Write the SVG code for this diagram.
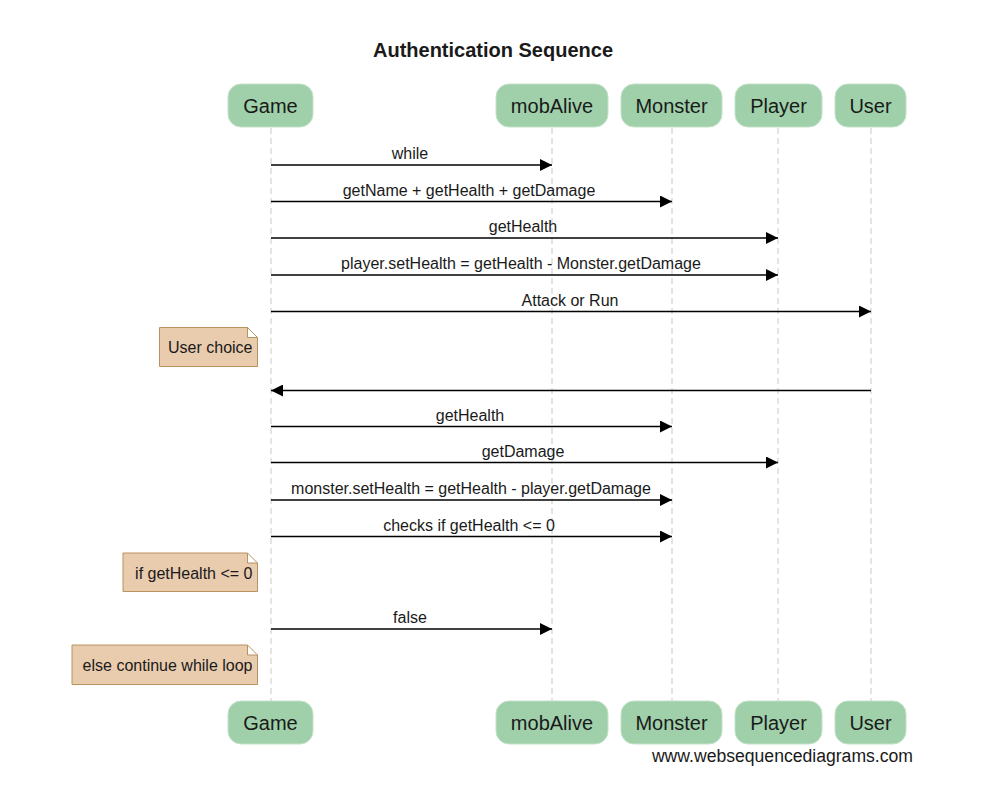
<svg xmlns="http://www.w3.org/2000/svg" width="1002" height="803" viewBox="0 0 1002 803">
<style>
text{font-family:"Liberation Sans",Arial,sans-serif;fill:#1a1a1a}
.title{font-size:20px;font-weight:bold;text-anchor:middle}
.part rect{fill:#9fd0aa;stroke:#c2e2c8;stroke-width:1}
.part text{font-size:20px;text-anchor:middle}
.life{stroke:#c8c8c8;stroke-width:1;stroke-dasharray:6,4}
.msg line{stroke:#000;stroke-width:1.3}
.msg text{font-size:16px;text-anchor:middle}
.note path{fill:#e9cbae;stroke:#b8925f;stroke-width:1}
.note text{font-size:16px;text-anchor:end}
.wm{font-size:17.6px;text-anchor:end}
</style>
<defs>
<marker id="ah" viewBox="0 0 12 12" refX="12" refY="6" markerWidth="12" markerHeight="12" markerUnits="userSpaceOnUse" orient="auto">
<path d="M0,0 L12,6 L0,12 Z" fill="#000"/>
</marker>
</defs>
<rect width="1002" height="803" fill="#fff"/>
<text class="title" x="493" y="57">Authentication Sequence</text>
<g id="lifelines">
<line class="life" x1="271" y1="128" x2="271" y2="701"/>
<line class="life" x1="552" y1="128" x2="552" y2="701"/>
<line class="life" x1="672" y1="128" x2="672" y2="701"/>
<line class="life" x1="778" y1="128" x2="778" y2="701"/>
<line class="life" x1="871" y1="128" x2="871" y2="701"/>
</g>
<g id="game" class="part">
<rect x="228" y="84" width="85" height="43" rx="13"/>
<text x="270.5" y="113">Game</text>
<rect x="228" y="701" width="85" height="43" rx="13"/>
<text x="270.5" y="730">Game</text>
</g>
<g id="mobAlive" class="part">
<rect x="496" y="84" width="112" height="43" rx="13"/>
<text x="552" y="113">mobAlive</text>
<rect x="496" y="701" width="112" height="43" rx="13"/>
<text x="552" y="730">mobAlive</text>
</g>
<g id="monster" class="part">
<rect x="621" y="84" width="101" height="43" rx="13"/>
<text x="671.5" y="113">Monster</text>
<rect x="621" y="701" width="101" height="43" rx="13"/>
<text x="671.5" y="730">Monster</text>
</g>
<g id="player" class="part">
<rect x="735" y="84" width="87" height="43" rx="13"/>
<text x="778.5" y="113">Player</text>
<rect x="735" y="701" width="87" height="43" rx="13"/>
<text x="778.5" y="730">Player</text>
</g>
<g id="user" class="part">
<rect x="835" y="84" width="71" height="43" rx="13"/>
<text x="870.5" y="113">User</text>
<rect x="835" y="701" width="71" height="43" rx="13"/>
<text x="870.5" y="730">User</text>
</g>
<g id="connectors" class="msg">
<line x1="271" y1="165" x2="552" y2="165" marker-end="url(#ah)"/>
<text x="410" y="159">while</text>
<line x1="271" y1="201.5" x2="672" y2="201.5" marker-end="url(#ah)"/>
<text x="469" y="195.5">getName + getHealth + getDamage</text>
<line x1="271" y1="238" x2="778" y2="238" marker-end="url(#ah)"/>
<text x="523" y="232">getHealth</text>
<line x1="271" y1="275" x2="778" y2="275" marker-end="url(#ah)"/>
<text x="521" y="269">player.setHealth = getHealth - Monster.getDamage</text>
<line x1="271" y1="311.5" x2="871" y2="311.5" marker-end="url(#ah)"/>
<text x="570" y="305.5">Attack or Run</text>
<line x1="871" y1="390.5" x2="271" y2="390.5" marker-end="url(#ah)"/>
<line x1="271" y1="426.5" x2="672" y2="426.5" marker-end="url(#ah)"/>
<text x="470" y="420.5">getHealth</text>
<line x1="271" y1="462.5" x2="778" y2="462.5" marker-end="url(#ah)"/>
<text x="523" y="456.5">getDamage</text>
<line x1="271" y1="500" x2="672" y2="500" marker-end="url(#ah)"/>
<text x="471" y="494">monster.setHealth = getHealth - player.getDamage</text>
<line x1="271" y1="536.5" x2="672" y2="536.5" marker-end="url(#ah)"/>
<text x="469" y="530.5">checks if getHealth &lt;= 0</text>
<line x1="271" y1="629" x2="552" y2="629" marker-end="url(#ah)"/>
<text x="410" y="623">false</text>
</g>
<g id="note-user-choice" class="note">
<path d="M159.5,327.5 H247.5 L257.5,337.5 V366.5 H159.5 Z M247.5,327.5 V337.5 H257.5"/>
<text x="252.5" y="353">User choice</text>
</g>
<g id="note-if-health" class="note">
<path d="M123,553 H247.5 L257.5,563 V591.5 H123 Z M247.5,553 V563 H257.5"/>
<text x="252.5" y="578.5">if getHealth &lt;= 0</text>
</g>
<g id="note-else" class="note">
<path d="M72,645 H247.5 L257.5,655 V684.5 H72 Z M247.5,645 V655 H257.5"/>
<text x="252.5" y="670.5">else continue while loop</text>
</g>
<text class="wm" x="913" y="762">www.websequencediagrams.com</text>
</svg>
